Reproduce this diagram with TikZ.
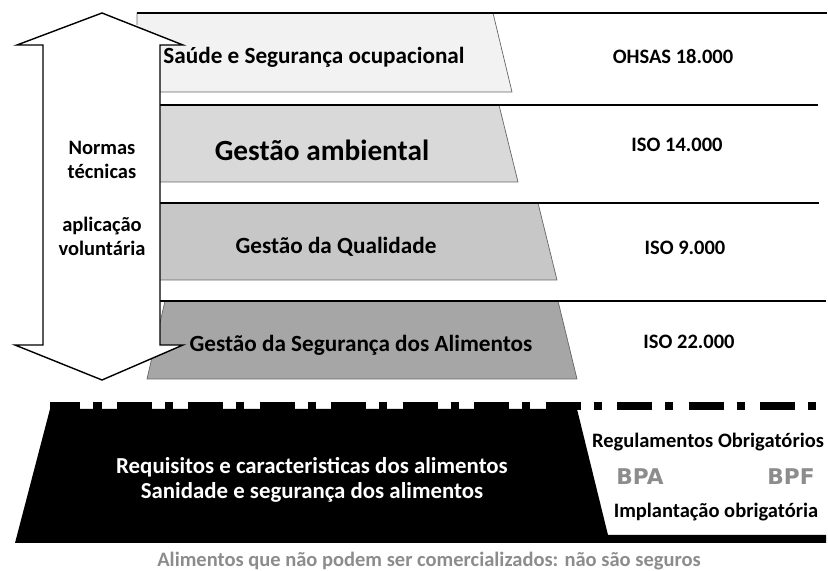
\documentclass[tikz,border=0pt]{standalone}
\usepackage{fontspec}
\setmainfont{Carlito}
\newfontfamily\heavyfont{DejaVu Sans}
\usetikzlibrary{positioning, calc}

\begin{document}
\begin{tikzpicture}[
    x=0.03cm, y=-0.03cm,
    layer/.style={draw=black!60, line width=0.6pt},
    topline/.style={line width=1.4pt},
    bigarrow/.style={draw, fill=white, line width=1.2pt, line join=miter},
    label/.style={font=\bfseries\fontsize{19.8}{22}\selectfont, inner sep=0pt},
    norm/.style={font=\bfseries\fontsize{17.5}{20}\selectfont, inner sep=0pt},
    side/.style={font=\bfseries\fontsize{17.5}{20.5}\selectfont, align=center, inner sep=0pt},
    gp/.style={text=black!45, font=\heavyfont\bfseries\fontsize{18.5}{20}\selectfont, inner sep=0pt},
    white text/.style={font=\bfseries\fontsize{19.5}{22}\selectfont, text=white, align=center, inner sep=0pt}
]
\useasboundingbox (0,0) rectangle (828,571);

% Voluntary layers
\fill[black!5] (137,13) -- (493,13) -- (512,92) -- (137,92) -- cycle;
\draw[layer] (137,25) -- (137,13) (493,13) -- (512,92) -- (160,92);
\draw[topline] (137,13) -- (827,13);

\fill[black!15] (160,105) -- (499,105) -- (518,182) -- (160,182) -- cycle;
\draw[layer] (499,105) -- (518,182) -- (160,182);
\draw[topline] (160,105) -- (818,105);

\fill[black!22] (160,203) -- (538,203) -- (557,280) -- (160,280) -- cycle;
\draw[layer] (538,203) -- (557,280) -- (160,280);
\draw[topline] (160,203) -- (819,203);

\fill[black!35] (165,301) -- (558,301) -- (577,379) -- (147,379) -- cycle;
\draw[layer] (165,301) -- (147,379) -- (577,379) -- (558,301);
\draw[topline] (160,301) -- (826,301);

% Double arrow
\draw[bigarrow] (102,13) -- (183,45) -- (160,45) -- (160,345) -- (183,345) -- (102,380)
    -- (15,345) -- (43,345) -- (43,45) -- (17,45) -- cycle;

% Mandatory base
\fill[black] (15,543) -- (50,409) -- (577,409) -- (608,535) -- (826,535) -- (826,543) -- cycle;
\draw[line width=7.5pt, dash pattern=on 30pt off 11pt on 7pt off 13pt, dash phase=4pt] (50,406) -- (828,406);

% Labels
\node[label] (sso) at (314,57) {Saúde e Segurança ocupacional};
\node[label, font=\bfseries\fontsize{25}{27}\selectfont] (amb) at (322,150) {Gestão ambiental};
\node[label] (qual) at (336,247) {Gestão da Qualidade};
\node[label] (alim) at (361,345) {Gestão da Segurança dos Alimentos};

\node[norm] (ohsas) at (673,57) {OHSAS 18.000};
\node[norm] (iso14) at (677,145) {ISO 14.000};
\node[norm] (iso9) at (685,248) {ISO 9.000};
\node[norm] (iso22) at (689,342) {ISO 22.000};

\node[side] (normas) at (102,160) {Normas\\técnicas};
\node[side] (volunt) at (102,236) {aplicação\\voluntária};

\node[white text] (req) at (312,480) {Requisitos e caracteristicas dos alimentos\\Sanidade e segurança dos alimentos};

\node[side] (regul) at (708,442) {Regulamentos Obrigatórios};
\node[gp] (bpa) at (640,477) {BPA};
\node[gp] (bpf) at (791,477) {BPF};
\node[side] (impl) at (716,512) {Implantação obrigatória};

\node[side, text=black!45] (naoseg) at (429,561) {Alimentos que não podem ser comercializados: não são seguros};

\end{tikzpicture}
\end{document}
